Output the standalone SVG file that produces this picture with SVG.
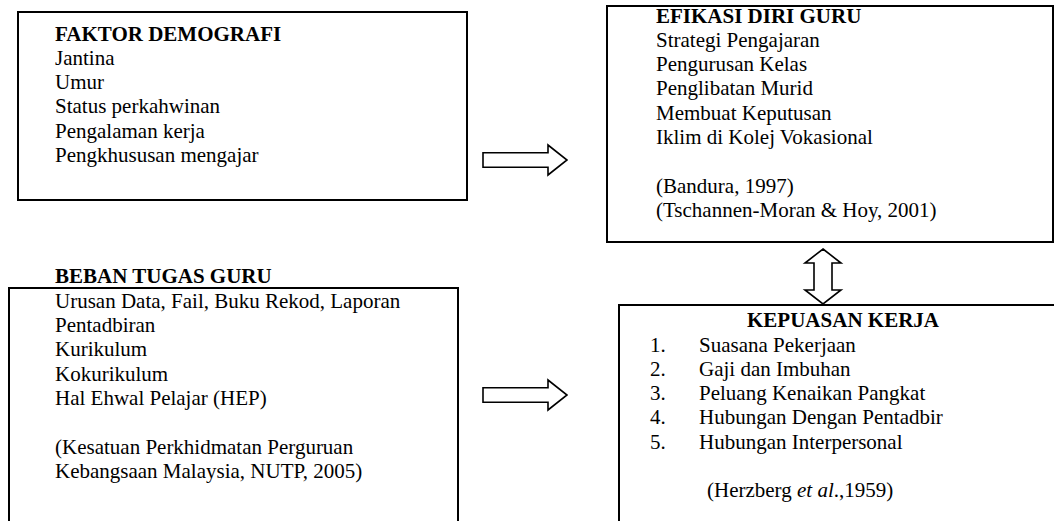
<svg xmlns="http://www.w3.org/2000/svg" width="1054" height="521" viewBox="0 0 1054 521">
<style>
.box{fill:#fff;stroke:#000;stroke-width:2}
.arr{fill:#fff;stroke:#000;stroke-width:1.6;stroke-linejoin:miter}
text{font-family:"Liberation Serif","Times New Roman",serif;font-size:21px;fill:#000}
.h{font-weight:bold}
</style>
<rect width="1054" height="521" fill="#fff"/>
<g id="faktor-demografi">
<rect class="box" x="18" y="12" width="449" height="188"/>
<text class="h" x="55" y="40.5">FAKTOR DEMOGRAFI</text>
<text x="55" y="64.8">Jantina</text>
<text x="55" y="89.1">Umur</text>
<text x="55" y="113.4">Status perkahwinan</text>
<text x="55" y="137.7">Pengalaman kerja</text>
<text x="55" y="162">Pengkhususan mengajar</text>
</g>
<g id="efikasi-diri-guru">
<rect class="box" x="607" y="6" width="446" height="236"/>
<text class="h" x="656" y="22.5">EFIKASI DIRI GURU</text>
<text x="656" y="46.8">Strategi Pengajaran</text>
<text x="656" y="71.1">Pengurusan Kelas</text>
<text x="656" y="95.4">Penglibatan Murid</text>
<text x="656" y="119.7">Membuat Keputusan</text>
<text x="656" y="144">Iklim di Kolej Vokasional</text>
<text x="656" y="192.6">(Bandura, 1997)</text>
<text x="656" y="216.9">(Tschannen-Moran &amp; Hoy, 2001)</text>
</g>
<g id="beban-tugas-guru">
<text class="h" x="55" y="283">BEBAN TUGAS GURU</text>
<rect class="box" x="9" y="288" width="449" height="240"/>
<text x="55" y="307.5">Urusan Data, Fail, Buku Rekod, Laporan</text>
<text x="55" y="332">Pentadbiran</text>
<text x="55" y="356.3">Kurikulum</text>
<text x="55" y="380.6">Kokurikulum</text>
<text x="55" y="405">Hal Ehwal Pelajar (HEP)</text>
<text x="55" y="453.6">(Kesatuan Perkhidmatan Perguruan</text>
<text x="55" y="478">Kebangsaan Malaysia, NUTP, 2005)</text>
</g>
<g id="kepuasan-kerja">
<rect class="box" x="619" y="305" width="440" height="230"/>
<text class="h" x="843" y="327" text-anchor="middle">KEPUASAN KERJA</text>
<text x="650" y="351.5">1.</text><text x="699" y="351.5">Suasana Pekerjaan</text>
<text x="650" y="375.8">2.</text><text x="699" y="375.8">Gaji dan Imbuhan</text>
<text x="650" y="400.1">3.</text><text x="699" y="400.1">Peluang Kenaikan Pangkat</text>
<text x="650" y="424.4">4.</text><text x="699" y="424.4">Hubungan Dengan Pentadbir</text>
<text x="650" y="448.7">5.</text><text x="699" y="448.7">Hubungan Interpersonal</text>
<text x="707" y="497.3">(Herzberg <tspan font-style="italic">et al</tspan>.,1959)</text>
</g>
<g id="connectors">
<path class="arr" d="M483,152.7 L548,152.7 L548,145 L567,160 L548,175 L548,167.3 L483,167.3 Z"/>
<path class="arr" d="M483,387.7 L548,387.7 L548,380 L567,395 L548,410 L548,402.3 L483,402.3 Z"/>
<path class="arr" d="M823,249 L841,263 L832,263 L832,290 L841,290 L823,304 L805,290 L814,290 L814,263 L805,263 Z"/>
</g>
</svg>
